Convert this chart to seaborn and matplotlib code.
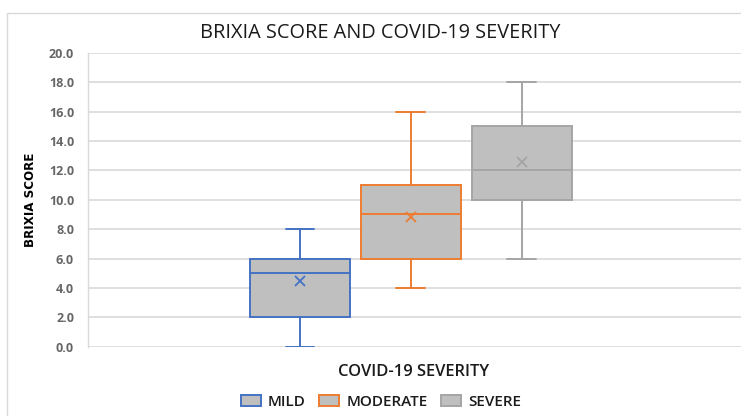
import matplotlib
matplotlib.use("Agg")
import matplotlib.pyplot as plt
from matplotlib.patches import Rectangle, Patch
import seaborn as sns

# ---- data ----
categories = ["MILD", "MODERATE", "SEVERE"]
mins = [0, 4, 6]
q1s = [2, 6, 10]
medians = [5, 9, 12]
q3s = [6, 11, 15]
maxs = [8, 16, 18]
means = [4.5, 8.8, 12.6]
yticks = [0, 2, 4, 6, 8, 10, 12, 14, 16, 18, 20]

edge_colors = ["#4472C4", "#ED7D31", "#A5A5A5"]
fill_color = "#BFBFBF"

sns.set_theme(style="white")
plt.rcParams["font.family"] = ["Open Sans", "DejaVu Sans"]

fig = plt.figure(figsize=(7.41, 4.16), dpi=100)
ax = fig.add_axes([88 / 741, (416 - 346.7) / 416, (741 - 88) / 741, (346.7 - 52.8) / 416])

# chart border
fig.patches.append(Rectangle((7 / 741, -0.1), 1.2, (416 - 13) / 416 + 0.1,
                             transform=fig.transFigure, fill=False,
                             edgecolor="#D9D9D9", linewidth=1.0))

positions = list(range(len(categories)))
for i, cat in enumerate(categories):
    stats = [dict(label=cat, whislo=mins[i], q1=q1s[i], med=medians[i],
                  q3=q3s[i], whishi=maxs[i], mean=means[i], fliers=[])]
    c = edge_colors[i]
    ax.bxp(stats, positions=[positions[i]], widths=0.9, patch_artist=True,
           showmeans=True, showfliers=False,
           boxprops=dict(facecolor=fill_color, edgecolor=c, linewidth=1.4),
           medianprops=dict(color=c, linewidth=1.4),
           whiskerprops=dict(color=c, linewidth=1.4),
           capprops=dict(color=c, linewidth=1.4),
           capwidths=0.26,
           meanprops=dict(marker="x", markeredgecolor=c, markersize=7,
                          markeredgewidth=1.3),
           zorder=3)

ax.set_xlim(-1.912, 3.978)
ax.set_ylim(0, 20)
ax.set_yticks(yticks)
ax.set_yticklabels([f"{v:.1f}" for v in yticks], color="#666666", fontsize=9,
                   fontweight="bold")
ax.set_xticks([])
ax.grid(axis="y", color="#D9D9D9", linewidth=1.2, zorder=0)
ax.set_axisbelow(True)
for s in ["top", "right", "bottom"]:
    ax.spines[s].set_visible(False)
ax.spines["left"].set_color("#D9D9D9")
ax.spines["left"].set_linewidth(1.0)
ax.tick_params(axis="y", length=0, pad=10)

fig.text(380 / 741, 1 - 33 / 416, "BRIXIA SCORE AND COVID-19 SEVERITY",
         ha="center", va="center", fontsize=14.3, color="#1a1a1a")
fig.text(414 / 741, 1 - 372 / 416, "COVID-19 SEVERITY",
         ha="center", va="center", fontsize=11.9, fontweight="semibold",
         color="#1a1a1a")
fig.text(30 / 741, 1 - 200 / 416, "BRIXIA SCORE", rotation=90,
         ha="center", va="center", fontsize=9.5, fontweight="bold",
         fontstretch="condensed", family=["DejaVu Sans"], color="#000000")

handles = [Patch(facecolor=fill_color, edgecolor=c, linewidth=1.4, label=l)
           for c, l in zip(edge_colors, categories)]
fig.legend(handles=handles, loc="center", bbox_to_anchor=(381 / 741, 1 - 402 / 416),
           ncol=3, frameon=False, handlelength=1.3, handleheight=0.7,
           handletextpad=0.45, columnspacing=0.9, labelcolor="#1a1a1a",
           prop=dict(size=11, weight="semibold"))

fig.savefig("out.png", dpi=100)
